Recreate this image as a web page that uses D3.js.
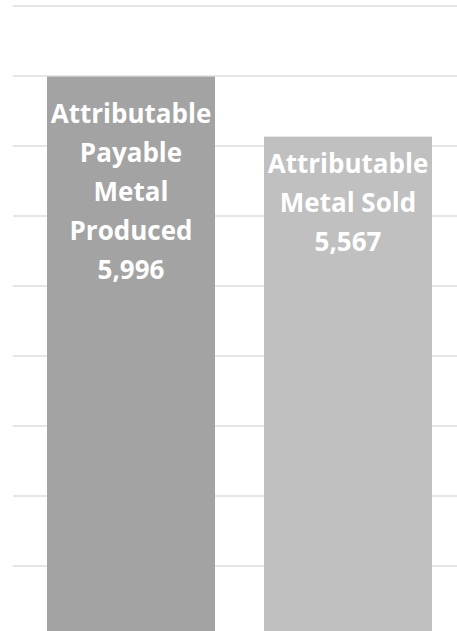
<!DOCTYPE html>
<html>
<head>
<meta charset="utf-8">
<script src="https://cdn.jsdelivr.net/npm/d3@7"></script>
<style>
  html, body { margin: 0; padding: 0; background: #fff; overflow: hidden; }
</style>
</head>
<body>
<div id="chart"></div>
<script>
// data
const categories = ["Attributable Payable Metal Produced", "Attributable Metal Sold"];
const values = [5996, 5567];
const labelLines = [
    ["Attributable", "Payable", "Metal", "Produced"],
    ["Attributable", "Metal Sold"]
];
const gridTicks = [0, 500, 1000, 1500, 2000, 2500, 3000, 3500, 4000, 4500, 5000, 5500, 6000, 6500];

const width = 457, height = 631;
const colors = ["#a3a3a3", "#c0c0c0"];
const labelPad = [46, 36];
const lineH = 39;

const svg = d3.select("#chart")
    .append("svg")
    .attr("width", width)
    .attr("height", height);

// the plot continues below the window, so the baseline sits off-screen
const y = d3.scaleLinear().domain([0, 6500]).range([916, 6]);
const x = d3.scaleBand()
    .domain(categories)
    .range([22.5, 456.5])
    .paddingInner(0.2258)
    .paddingOuter(0.1129);

svg.selectAll("line.grid")
    .data(gridTicks)
    .enter()
    .append("line")
    .classed("grid", true)
    .attr("x1", 13)
    .attr("x2", width)
    .attr("y1", d => y(d))
    .attr("y2", d => y(d))
    .attr("stroke", "#e6e6e6")
    .attr("stroke-width", 2);

svg.selectAll("rect.bar")
    .data(values)
    .enter()
    .append("rect")
    .classed("bar", true)
    .attr("x", (d, i) => x(categories[i]))
    .attr("y", d => y(d))
    .attr("width", x.bandwidth())
    .attr("height", d => y(0) - y(d))
    .attr("fill", (d, i) => colors[i]);

const fmt = d3.format(",");

svg.selectAll("text.label")
    .data(values)
    .enter()
    .append("text")
    .classed("label", true)
    .attr("text-anchor", "middle")
    .attr("fill", "#fff")
    .style("font-family", "'Open Sans', sans-serif")
    .style("font-weight", "bold")
    .style("font-size", "26px")
    .each(function (d, i) {
        const t = d3.select(this);
        const cx = x(categories[i]) + x.bandwidth() / 2;
        const lines = labelLines[i].concat([fmt(d)]);
        lines.forEach((s, k) => {
            t.append("tspan")
                .attr("x", cx)
                .attr("y", y(d) + labelPad[i] + k * lineH)
                .text(s);
        });
    });
</script>
</body>
</html>
